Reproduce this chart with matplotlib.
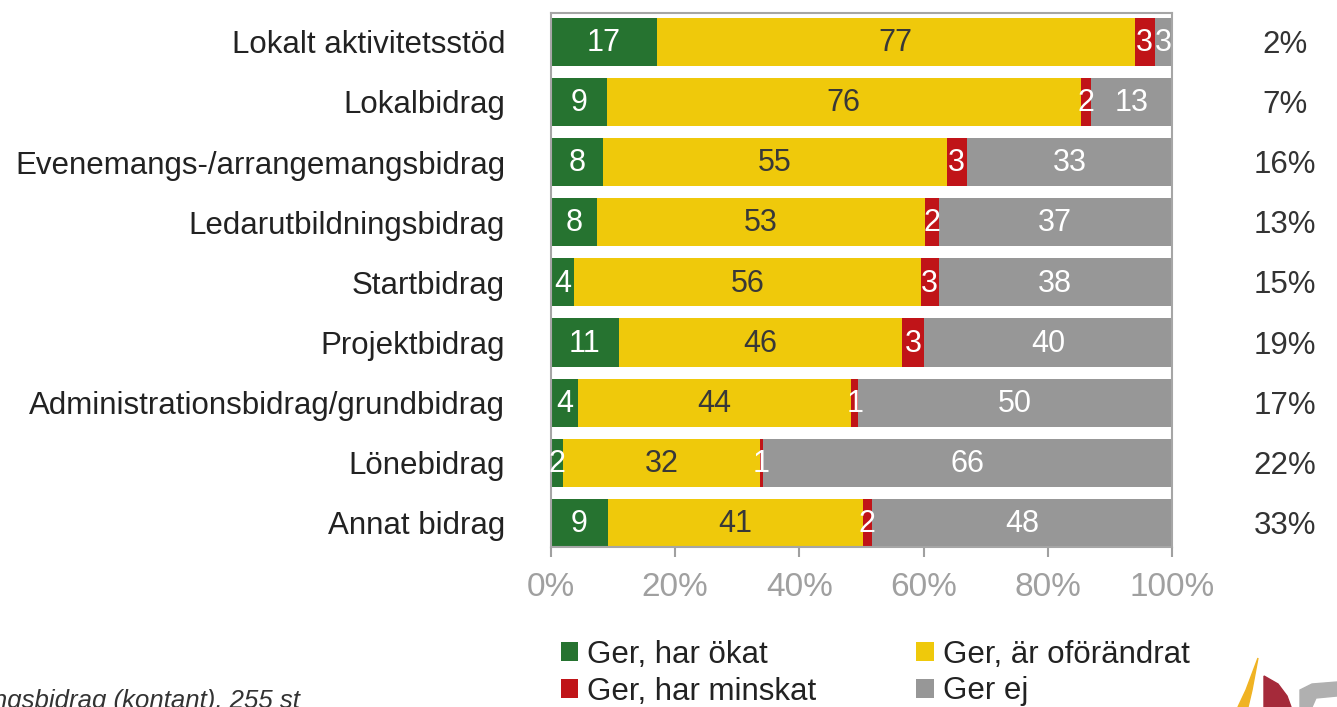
import matplotlib
matplotlib.use("Agg")
import matplotlib.pyplot as plt
from matplotlib.patches import Polygon

plt.rcParams['font.family'] = ['Liberation Sans', 'DejaVu Sans']

# data
kategorier = ["Lokalt aktivitetsstöd", "Lokalbidrag", "Evenemangs-/arrangemangsbidrag",
              "Ledarutbildningsbidrag", "Startbidrag", "Projektbidrag",
              "Administrationsbidrag/grundbidrag", "Lönebidrag", "Annat bidrag"]
# andelar (%) avlästa ur stapelbredderna
har_okat = [17.0, 9.0, 8.3, 7.4, 3.7, 10.9, 4.3, 2.0, 9.1]
oforandrat = [77.0, 76.3, 55.4, 52.9, 55.9, 45.7, 44.0, 31.6, 41.1]
har_minskat = [3.2, 1.6, 3.3, 2.1, 2.8, 3.5, 1.2, 0.5, 1.5]
ger_ej = [2.8, 13.1, 33.0, 37.6, 37.6, 39.9, 50.5, 65.9, 48.3]
# etiketterna som de står i stapeln
etik_okat = [17, 9, 8, 8, 4, 11, 4, 2, 9]
etik_oforandrat = [77, 76, 55, 53, 56, 46, 44, 32, 41]
etik_minskat = [3, 2, 3, 2, 3, 3, 1, 1, 2]
etik_ej = [3, 13, 33, 37, 38, 40, 50, 66, 48]
andel_hoger = ["2%", "7%", "16%", "13%", "15%", "19%", "17%", "22%", "33%"]
serienamn = ["Ger, har ökat", "Ger, är oförändrat", "Ger, har minskat", "Ger ej"]
farger = ["#267330", "#EFC90B", "#C01418", "#979797"]
textfarger = ["white", "#383838", "white", "white"]
xticks = [0, 20, 40, 60, 80, 100]

fig = plt.figure(figsize=(13.37, 7.07), dpi=100)
ax = fig.add_axes([551 / 1337, 1 - 547 / 707, 621 / 1337, 534 / 707])

y = list(range(len(kategorier)))
vanster = [0] * len(kategorier)
staplar = []
serier = [har_okat, oforandrat, har_minskat, ger_ej]
etiketter = [etik_okat, etik_oforandrat, etik_minskat, etik_ej]
for serie, etik, namn, farg, tf in zip(serier, etiketter, serienamn, farger, textfarger):
    b = ax.barh(y, serie, left=vanster, height=0.8, color=farg, label=namn)
    staplar.append(b)
    for yi, v, e, l in zip(y, serie, etik, vanster):
        ax.text(l + v / 2, yi + 0.02, str(e), ha="center", va="center", color=tf, fontsize=22)
    vanster = [l + v for l, v in zip(vanster, serie)]

for yi, t in zip(y, andel_hoger):
    ax.text(118.2, yi + 0.05, t, ha="center", va="center", color="#333333", fontsize=22.5,
            clip_on=False)

ax.set_xlim(0, 100)
ax.set_ylim(8.4, -0.48)
ax.set_yticks(y)
ax.set_yticklabels(kategorier, fontsize=22.5, color="#222222")
ax.set_xticks(xticks)
ax.set_xticklabels([f"{t}%" for t in xticks], fontsize=24, color="#A0A0A0")
ax.tick_params(axis="y", length=0, pad=33)
ax.tick_params(axis="x", length=7, width=1.5, color="#A0A0A0", pad=11)
for s in ax.spines.values():
    s.set_color("#A6A6A6")
    s.set_linewidth(1.5)

# legend
ordning = [0, 2, 1, 3]
fig.legend([staplar[i] for i in ordning], [serienamn[i] for i in ordning], ncol=2,
           loc="upper left", bbox_to_anchor=(545 / 1337, 1 - 624 / 707), frameon=False,
           fontsize=22.5, handlelength=0.55, handleheight=0.55, handletextpad=0.3,
           columnspacing=3.2, labelspacing=0.22, borderpad=0, labelcolor="#222222")

# fotnot (avklippt i originalet)
fig.text(300 / 1337, 1 - 700 / 707, "Bas: föreningar som får föreningsbidrag (kontant), 255 st",
         ha="right", va="center", fontsize=18.5, style="italic", color="#333333")

# logotyp-fragment nere till höger
fig.patches.append(Polygon([(1258 / 1337, 1 - 658 / 707), (1246 / 1337, 1 - 690 / 707),
                            (1238 / 1337, 0), (1248 / 1337, 0), (1252 / 1337, 1 - 690 / 707)],
                           closed=True, transform=fig.transFigure, color="#F0B323"))
fig.patches.append(Polygon([(1264 / 1337, 1 - 676 / 707), (1278 / 1337, 1 - 684 / 707),
                            (1287 / 1337, 1 - 696 / 707), (1291 / 1337, 0), (1264 / 1337, 0)],
                           closed=True, transform=fig.transFigure, color="#A52A3A"))
fig.patches.append(Polygon([(1300 / 1337, 1 - 690 / 707), (1312 / 1337, 1 - 684 / 707),
                            (1337 / 1337, 1 - 682 / 707), (1337 / 1337, 1 - 696 / 707),
                            (1316 / 1337, 1 - 698 / 707), (1312 / 1337, 0), (1300 / 1337, 0)],
                           closed=True, transform=fig.transFigure, color="#B0B0B0"))

fig.savefig("out.png", dpi=100)
